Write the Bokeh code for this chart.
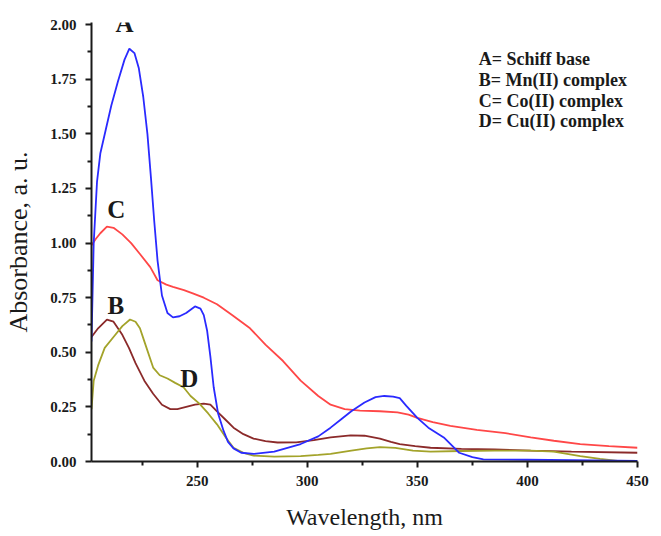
from bokeh.plotting import figure
from bokeh.models import Range1d, FixedTicker, NumeralTickFormatter, Label
from bokeh.embed import file_html
from bokeh.resources import INLINE

# ---- data ----
wl_A = [202, 203, 204.5, 206, 208.5, 211, 214, 217, 219.2, 221.5, 223.5, 225.5, 227.4, 229, 230.5, 232,
        234, 236.5, 239, 242, 245, 249, 251.5, 253, 254.5, 256, 257.5, 259.5, 262, 264, 266.5, 270,
        275.6, 285, 297, 305, 310.6, 315, 320, 326, 331, 335, 339, 342, 345, 350, 355, 362, 366, 369,
        375, 380, 400, 420, 450]
abs_A = [0.55, 1.0, 1.28, 1.41, 1.52, 1.63, 1.74, 1.84, 1.89, 1.87, 1.80, 1.67, 1.50, 1.30, 1.10, 0.92,
         0.76, 0.68, 0.66, 0.665, 0.68, 0.71, 0.70, 0.67, 0.60, 0.48, 0.34, 0.22, 0.14, 0.09, 0.06, 0.04,
         0.035, 0.045, 0.08, 0.115, 0.155, 0.19, 0.23, 0.27, 0.295, 0.30, 0.297, 0.29, 0.255, 0.20, 0.155,
         0.11, 0.07, 0.04, 0.02, 0.01, 0.008, 0.006, 0.003]

wl_B = [202, 205, 209, 212, 216, 219, 222, 226, 230, 234, 237.8, 241, 245, 249, 253, 256, 259, 263,
        266.5, 271, 275.6, 281, 286.5, 295, 303, 310.6, 319.7, 326, 333, 338, 342, 349, 356, 370, 385,
        401.5, 420, 450]
abs_B = [0.57, 0.61, 0.65, 0.64, 0.58, 0.52, 0.45, 0.37, 0.31, 0.26, 0.24, 0.24, 0.25, 0.26, 0.265,
         0.26, 0.23, 0.19, 0.155, 0.125, 0.105, 0.093, 0.087, 0.088, 0.098, 0.11, 0.12, 0.118, 0.105,
         0.09, 0.08, 0.07, 0.063, 0.058, 0.055, 0.05, 0.045, 0.04]

wl_C = [202, 204, 206, 209, 212, 216, 220, 224, 228.7, 232, 236, 239, 244, 248, 253, 259, 266, 274,
        281, 289, 297, 305, 310.6, 317, 324, 333, 341, 346, 350, 357, 365, 377, 390, 401.5, 412, 424,
        437, 450]
abs_C = [0.99, 1.02, 1.045, 1.075, 1.07, 1.04, 1.00, 0.95, 0.89, 0.83, 0.81, 0.80, 0.785, 0.77, 0.75,
         0.72, 0.67, 0.61, 0.535, 0.46, 0.37, 0.30, 0.26, 0.24, 0.233, 0.23, 0.225, 0.215, 0.20, 0.18,
         0.163, 0.145, 0.13, 0.11, 0.095, 0.08, 0.07, 0.063]

wl_D = [202, 203, 205, 208, 212, 216, 219.5, 222, 224, 226, 230, 233, 236.5, 240, 243.8, 247, 251,
        255, 259, 263, 266.5, 271, 275.6, 285, 297, 305, 310.6, 320, 327, 333, 340, 348, 356, 370, 385,
        401.5, 412, 424, 433, 442, 450]
abs_D = [0.24, 0.37, 0.44, 0.52, 0.57, 0.62, 0.65, 0.64, 0.61, 0.55, 0.43, 0.395, 0.38, 0.36, 0.34,
         0.30, 0.265, 0.22, 0.17, 0.11, 0.063, 0.04, 0.027, 0.022, 0.025, 0.03, 0.035, 0.05, 0.06,
         0.066, 0.062, 0.05, 0.045, 0.048, 0.05, 0.05, 0.045, 0.025, 0.012, 0.002, 0.0]

x_ticks = [250, 300, 350, 400, 450]
x_minor = [225, 275, 325, 375, 425]
y_ticks = [0, 0.25, 0.5, 0.75, 1.0, 1.25, 1.5, 1.75, 2.0]
y_minor = [0.125, 0.375, 0.625, 0.875, 1.125, 1.375, 1.625, 1.875]

curve_labels = ["A", "B", "C", "D"]
curve_label_x = [217.0, 213.1, 213.3, 246.4]
curve_label_y = [2.005, 0.715, 1.155, 0.38]

legend_lines = ["A= Schiff base", "B= Mn(II) complex", "C= Co(II) complex", "D= Cu(II) complex"]
legend_x = 377.9
legend_y = [1.844, 1.748, 1.652, 1.561]

SERIF = "Liberation Serif"

p = figure(width=653, height=536, output_backend="svg", toolbar_location=None,
           x_range=Range1d(202, 450), y_range=Range1d(0, 2.01),
           min_border_left=91, min_border_right=16, min_border_top=22, min_border_bottom=75)
p.outline_line_color = None
p.xgrid.visible = False
p.ygrid.visible = False
p.background_fill_color = "white"
p.border_fill_color = "white"

for ax in (p.xaxis[0], p.yaxis[0]):
    ax.axis_line_width = 2
    ax.axis_line_color = "#1a1a1a"
    ax.major_tick_line_width = 2
    ax.minor_tick_line_width = 2
    ax.major_tick_line_color = "#1a1a1a"
    ax.minor_tick_line_color = "#1a1a1a"
    ax.major_tick_in = 0
    ax.major_tick_out = 6
    ax.minor_tick_in = 0
    ax.minor_tick_out = 4
    ax.major_label_text_font = SERIF
    ax.major_label_text_font_style = "bold"
    ax.major_label_text_font_size = "15px"
    ax.major_label_text_color = "#1a1a1a"
    ax.axis_label_text_font = SERIF
    ax.axis_label_text_font_style = "normal"
    ax.axis_label_text_color = "#1a1a1a"

p.xaxis.ticker = FixedTicker(ticks=x_ticks, minor_ticks=x_minor)
p.yaxis.ticker = FixedTicker(ticks=y_ticks, minor_ticks=y_minor)
p.yaxis.formatter = NumeralTickFormatter(format="0.00")
p.xaxis.major_label_standoff = 8
p.yaxis.major_label_standoff = 9

p.xaxis.axis_label = "Wavelength, nm"
p.xaxis.axis_label_text_font_size = "24px"
p.xaxis.axis_label_standoff = 15

p.yaxis.axis_label = "Absorbance, a. u."
p.yaxis.axis_label_text_font_size = "26px"
p.yaxis.axis_label_standoff = 14

p.line(wl_C, abs_C, line_color="#ff4747", line_width=1.8)
p.line(wl_B, abs_B, line_color="#8b2a2a", line_width=1.8)
p.line(wl_D, abs_D, line_color="#a3a32a", line_width=1.8)
p.line(wl_A, abs_A, line_color="#2a2aff", line_width=1.8)

for t, x, y in zip(curve_labels, curve_label_x, curve_label_y):
    p.add_layout(Label(x=x, y=y, text=t, text_font=SERIF, text_font_style="bold",
                       text_font_size="25px", text_align="center", text_baseline="middle",
                       text_color="#1a1a1a"))

for t, y in zip(legend_lines, legend_y):
    p.add_layout(Label(x=legend_x, y=y, text=t, text_font=SERIF, text_font_style="bold",
                       text_font_size="18px", text_align="left", text_baseline="middle",
                       text_color="#1a1a1a"))

open("out.html", "w").write(file_html(p, INLINE))
